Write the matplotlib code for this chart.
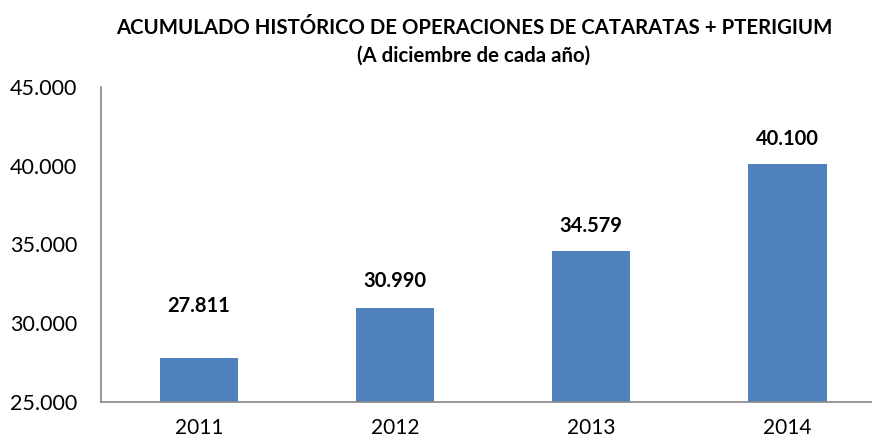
import matplotlib
matplotlib.use('Agg')
import matplotlib.pyplot as plt

years = ['2011', '2012', '2013', '2014']
operaciones = [27811, 30990, 34579, 40100]
y_ticks = [25000, 30000, 35000, 40000, 45000]


def fmt_miles(v):
    # formato con punto de miles
    return '{:,}'.format(int(v)).replace(',', '.')


plt.rcParams['font.family'] = ['Lato', 'DejaVu Sans']

fig = plt.figure(figsize=(8.72, 4.42), dpi=100)
ax = fig.add_axes([0.1155, 0.091, 0.90, 0.712])

x = range(len(years))
ax.bar(x, operaciones, width=0.4, color='#4f81bd', zorder=2)

ax.set_ylim(25000, 45000)
ax.set_xlim(-0.5, len(years) - 0.5)
ax.set_yticks(y_ticks)
ax.set_yticklabels([fmt_miles(v) for v in y_ticks], fontsize=15.5)
ax.set_xticks(list(x))
ax.set_xticklabels(years, fontsize=15)
ax.tick_params(axis='x', length=0, pad=12)
ax.tick_params(axis='y', length=0, pad=17)

for s in ['top', 'right']:
    ax.spines[s].set_visible(False)
for s in ['left', 'bottom']:
    ax.spines[s].set_color('#868686')
    ax.spines[s].set_linewidth(1.2)

# la etiqueta de 2011 va mas alta en el original
offsets = [37, 19, 18, 18]
for i, v in enumerate(operaciones):
    ax.annotate(fmt_miles(v), (i, v), xytext=(0, offsets[i]),
                textcoords='offset points', ha='center', va='center',
                fontsize=14.5, fontweight='bold')

fig.text(0.5436, 0.936, 'ACUMULADO HISTÓRICO DE OPERACIONES DE CATARATAS + PTERIGIUM',
         ha='center', va='center', fontsize=14.7, fontweight='bold')
fig.text(0.5436, 0.875, '(A diciembre de cada año)',
         ha='center', va='center', fontsize=14.7, fontweight='bold')

fig.savefig('out.png', dpi=100)
